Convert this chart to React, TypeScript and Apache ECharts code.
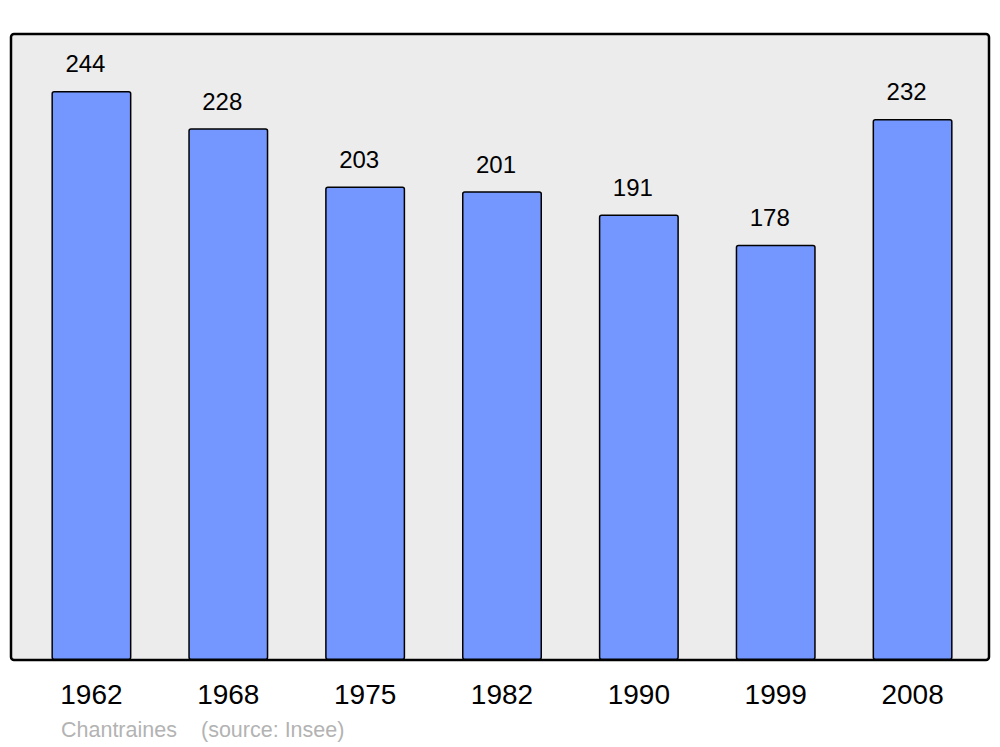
import React, { useEffect, useRef } from "react";
import * as echarts from "echarts";

const years = ["1962", "1968", "1975", "1982", "1990", "1999", "2008"];
const population = [244, 228, 203, 201, 191, 178, 232];
const footerName = "Chantraines";
const footerSource = "(source: Insee)";

export default function App() {
  const ref = useRef<HTMLDivElement>(null);
  useEffect(() => {
    document.body.style.margin = "0";
    const chart = echarts.init(ref.current!, null, { renderer: "svg" });
    chart.setOption({
      animation: false,
      backgroundColor: "#ffffff",
      grid: { left: 23, right: 19, top: 34, bottom: 87 },
      xAxis: {
        type: "category",
        data: years,
        axisLine: { show: false },
        axisTick: { show: false },
        axisLabel: {
          color: "#000",
          fontSize: 28,
          fontFamily: "Liberation Sans, Arial, sans-serif",
          margin: 20,
        },
      },
      yAxis: {
        type: "value",
        min: 0,
        max: 268.4,
        show: false,
        splitLine: { show: false },
      },
      graphic: [
        {
          type: "rect",
          z: -10,
          shape: { x: 11, y: 34, width: 978, height: 626, r: 3 },
          style: { fill: "#ececec", stroke: "#000", lineWidth: 2.5 },
        },
        {
          type: "text",
          x: 61,
          y: 730,
          style: {
            text: footerName,
            fill: "#b3b3b3",
            fontSize: 21.5,
            fontFamily: "Liberation Sans, Arial, sans-serif",
            verticalAlign: "middle",
          },
        },
        {
          type: "text",
          x: 201,
          y: 730,
          style: {
            text: footerSource,
            fill: "#b3b3b3",
            fontSize: 21.5,
            fontFamily: "Liberation Sans, Arial, sans-serif",
            verticalAlign: "middle",
          },
        },
      ],
      series: [
        {
          type: "bar",
          data: population,
          barWidth: 80,
          itemStyle: {
            color: "#7397ff",
            borderColor: "#000",
            borderWidth: 1.5,
            borderRadius: 2,
          },
          label: {
            show: true,
            position: "top",
            distance: 15,
            offset: [-6, 0],
            color: "#000",
            fontSize: 24,
            fontFamily: "Liberation Sans, Arial, sans-serif",
          },
        },
      ],
    });
    return () => chart.dispose();
  }, []);
  return (
    <div
      ref={ref}
      style={{ position: "absolute", left: 0, top: 0, width: 1000, height: 747 }}
    />
  );
}
